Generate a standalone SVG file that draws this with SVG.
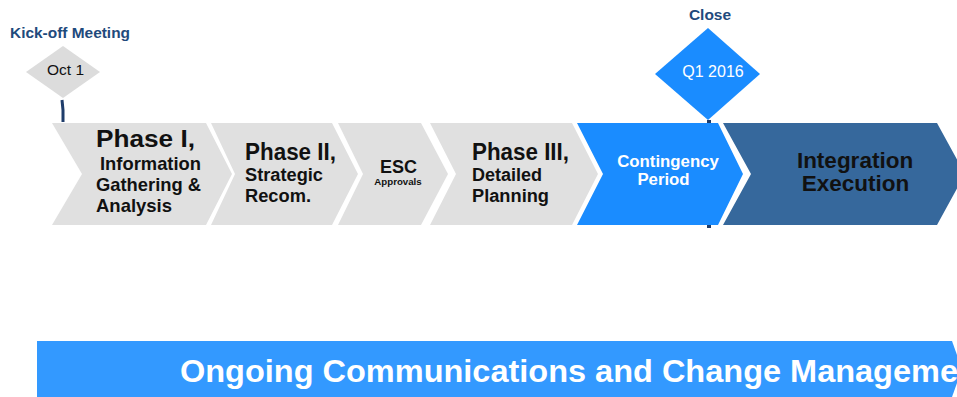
<svg xmlns="http://www.w3.org/2000/svg" width="957" height="397" viewBox="0 0 957 397">
<style>
.t{font-family:"Liberation Sans",Arial,sans-serif;font-weight:bold}
.n{font-family:"Liberation Sans",Arial,sans-serif;font-weight:normal}
.gray{fill:#e0e0e0}
.navy{fill:#1f4a7c}
.blk{fill:#111}
.wht{fill:#fff}
</style>
<rect width="957" height="397" fill="#fff"/>
<g id="connectors">
<path d="M62,100 L63,110 L63,122" stroke="#1f3d6b" stroke-width="3" fill="none"/>
<rect x="707" y="120" width="4" height="4" fill="#1f3d6b"/>
<rect x="707" y="224" width="4" height="4" fill="#1f3d6b"/>
</g>
<g id="kickoff">
<text class="t navy" x="10" y="38" font-size="15.5" textLength="120" lengthAdjust="spacingAndGlyphs">Kick-off Meeting</text>
<polygon points="26,72 63,46 100,72 63,98" fill="#dcdcdc"/>
<text class="n blk" x="65.5" y="75" font-size="15.5" text-anchor="middle">Oct 1</text>
</g>
<g id="close">
<text class="t navy" x="710" y="20" font-size="15.5" text-anchor="middle">Close</text>
<polygon points="655,74 708,28 760,74 708,120" fill="#1a8cff"/>
<text class="n wht" x="713" y="77" font-size="16" text-anchor="middle">Q1 2016</text>
</g>
<g id="phase1">
<polygon class="gray" points="52,123 206,123 232,174 206,225 52,225 82,174"/>
<text class="t blk" x="96" y="147" font-size="23" textLength="99" lengthAdjust="spacingAndGlyphs">Phase I,</text>
<text class="t blk" x="100" y="170" font-size="18.5" textLength="101" lengthAdjust="spacingAndGlyphs">Information</text>
<text class="t blk" x="96" y="191" font-size="18.5" textLength="105" lengthAdjust="spacingAndGlyphs">Gathering &amp;</text>
<text class="t blk" x="96" y="212" font-size="18.5" textLength="76" lengthAdjust="spacingAndGlyphs">Analysis</text>
</g>
<g id="phase2">
<polygon class="gray" points="211,123 332,123 358,174 332,225 211,225 235,174"/>
<text class="t blk" x="245" y="160" font-size="23" textLength="91" lengthAdjust="spacingAndGlyphs">Phase II,</text>
<text class="t blk" x="245" y="181" font-size="18" textLength="78" lengthAdjust="spacingAndGlyphs">Strategic</text>
<text class="t blk" x="245" y="202" font-size="18" textLength="66" lengthAdjust="spacingAndGlyphs">Recom.</text>
</g>
<g id="esc">
<polygon class="gray" points="338,123 421,123 448,174 421,225 338,225 363,174"/>
<text class="t blk" x="398.5" y="173" font-size="18" text-anchor="middle">ESC</text>
<text class="t blk" x="398" y="185" font-size="9.7" text-anchor="middle">Approvals</text>
</g>
<g id="phase3">
<polygon class="gray" points="430,123 572,123 598,174 572,225 430,225 456,174"/>
<text class="t blk" x="472" y="160" font-size="23" textLength="97" lengthAdjust="spacingAndGlyphs">Phase III,</text>
<text class="t blk" x="472" y="181" font-size="18" textLength="70" lengthAdjust="spacingAndGlyphs">Detailed</text>
<text class="t blk" x="472" y="202" font-size="18" textLength="77" lengthAdjust="spacingAndGlyphs">Planning</text>
</g>
<g id="contingency">
<polygon points="577,123 718,123 743,174 718,225 577,225 603,174" fill="#1a8cff"/>
<text class="t wht" x="668" y="167" font-size="16.8" text-anchor="middle">Contingency</text>
<text class="t wht" x="663.5" y="185" font-size="16.8" text-anchor="middle">Period</text>
</g>
<g id="integration">
<polygon points="723,123 937,123 965,174 937,225 723,225 751,174" fill="#36689c"/>
<text class="t blk" x="855" y="168" font-size="22.5" text-anchor="middle">Integration</text>
<text class="t blk" x="855.5" y="191" font-size="22.5" text-anchor="middle">Execution</text>
</g>
<g id="banner">
<polygon points="37,341 952,341 962,369 952,397 37,397" fill="#3399ff"/>
<text class="t wht" x="180" y="382" font-size="31" textLength="778" lengthAdjust="spacingAndGlyphs">Ongoing Communications and Change Manageme</text>
</g>
</svg>
